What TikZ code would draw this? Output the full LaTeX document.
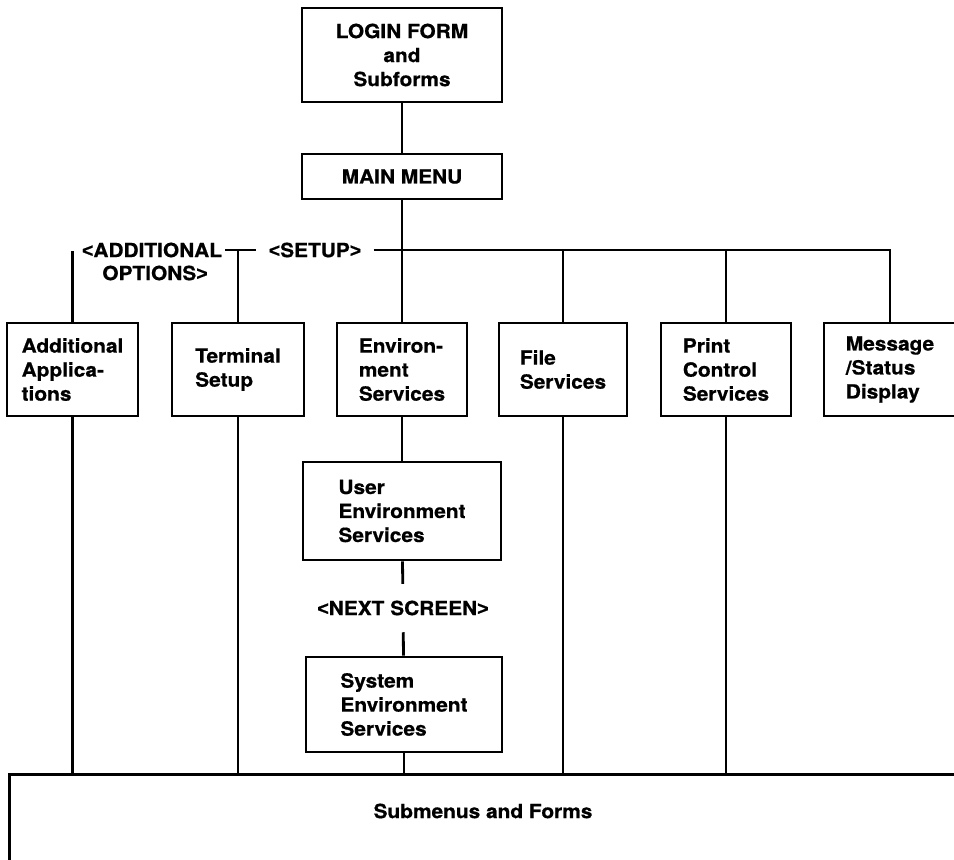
\documentclass[tikz,border=0pt]{standalone}
\usepackage{fontspec}
\setmainfont{TeX Gyre Heros}[FakeStretch=1.07,BoldFeatures={FakeBold=0.6}]
\newfontfamily\brfont{Liberation Sans}[BoldFeatures={FakeBold=0.6}]
\newcommand{\lbr}{{\brfont <}}
\newcommand{\rbr}{{\brfont >}}
\begin{document}
\begin{tikzpicture}[x=1pt,y=-1pt,line width=2.8pt,
  every node/.style={font=\fontsize{19.5}{24}\selectfont\bfseries},
  box/.style={draw,rectangle,align=left,inner sep=0pt},
  cbox/.style={draw,rectangle,align=center,inner sep=0pt},
  lbl/.style={inner sep=0pt}]
\useasboundingbox (0,0) rectangle (954,860);
\clip (0,0) rectangle (954,860);
% top
\node[cbox,minimum width=200pt,minimum height=94pt] (login) at (402,55) {LOGIN FORM\\and\\Subforms};
\node[cbox,minimum width=200pt,minimum height=45pt] (mainmenu) at (402,176.5) {MAIN MENU};
% row
\node[box,minimum width=131pt,minimum height=93pt] (addapp) at (72.5,369.5) {Additional\\Applica-\\tions};
\node[box,minimum width=132pt,minimum height=93pt] (termset) at (238,369.5) {Terminal\\Setup};
\node[box,minimum width=130pt,minimum height=93pt] (envsvc) at (402,369.5) {Environ-\\ment\\Services};
\node[box,minimum width=128pt,minimum height=93pt] (filesvc) at (563,369.5) {File\\Services};
\node[box,minimum width=130pt,minimum height=93pt] (printsvc) at (726,369.5) {Print\\Control\\Services};
\node[box,minimum width=132pt,minimum height=93pt] (msgsvc) at (890,369.5) {Message\\/Status\\Display};
% labels
\node[lbl,inner xsep=2pt] (addl1) at (152,250) {\lbr ADDITIONAL};
\node[lbl] (addl2) at (155,273) {OPTIONS\rbr};
\node[lbl,inner xsep=11pt] (setup) at (315,250) {\lbr SETUP\rbr};
\coordinate (addtop) at (72.5,251);
% environment chain
\node[box,minimum width=198pt,minimum height=98pt] (usersvc) at (402,511) {User\\Environment\\Services};
\node[lbl,inner ysep=15.5pt] (next) at (403,608) {\lbr NEXT SCREEN\rbr};
\node[box,minimum width=196pt,minimum height=95pt] (syssvc) at (404,704.5) {System\\Environment\\Services};
% bottom
\node[draw,rectangle,minimum width=970pt,minimum height=130pt,anchor=north west,inner sep=0pt] (subm) at (8,773) {};
\node[lbl] (submtxt) at (483,811) {Submenus and Forms};
% connectors
\draw (login) -- (mainmenu);
\draw (mainmenu) -- (envsvc);
\draw (setup.east) -- (msgsvc.north |- setup.east) -- (msgsvc.north);
\draw (filesvc.north |- setup.east) -- (filesvc.north);
\draw (printsvc.north |- setup.east) -- (printsvc.north);
\draw (addl1.east) -- (setup.west);
\draw (termset.north |- addl1.east) -- (termset.north);
\draw (addtop) -- (addapp.north);
\draw (envsvc.south -| usersvc.north) -- (usersvc.north);
\draw (usersvc) -- (next);
\draw (next) -- (syssvc);
\draw (addapp.south) -- (addapp.south |- subm.north);
\draw (termset.south) -- (termset.south |- subm.north);
\draw (syssvc.south) -- (syssvc.south |- subm.north);
\draw (filesvc.south) -- (filesvc.south |- subm.north);
\draw (printsvc.south) -- (printsvc.south |- subm.north);
\end{tikzpicture}
\end{document}
